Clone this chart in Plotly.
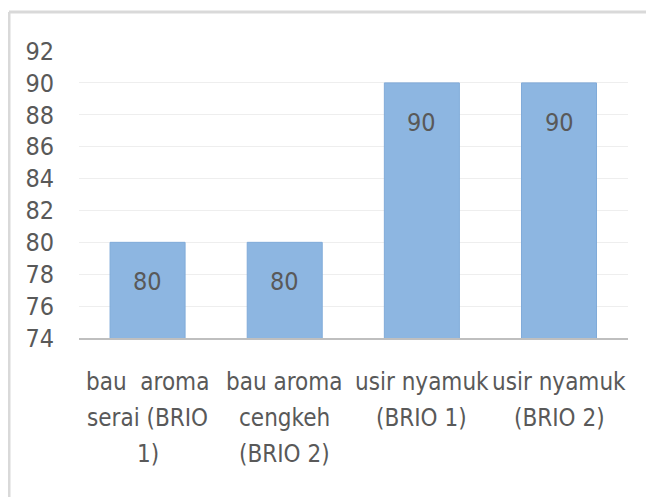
import plotly.graph_objects as go

categories = [
    "bau  aroma<br>serai (BRIO<br>1)",
    "bau aroma<br>cengkeh<br>(BRIO 2)",
    "usir nyamuk<br>(BRIO 1)",
    "usir nyamuk<br>(BRIO 2)",
]
values = [80, 80, 90, 90]
y_ticks = [74, 76, 78, 80, 82, 84, 86, 88, 90, 92]

FONT = "Liberation Sans Narrow, DejaVu Sans Condensed, Arial Narrow, sans-serif"
TXT = "#595959"

fig = go.Figure()
fig.add_trace(go.Bar(
    x=categories, y=values,
    marker=dict(color="#8db6e1", line=dict(color="#80abd9", width=1)),
    hoverinfo="skip",
))

# data labels (inside end)
for c, v in zip(categories, values):
    fig.add_annotation(x=c, y=v, text=str(v), showarrow=False,
                       yanchor="top", yshift=-23,
                       font=dict(family=FONT, size=25, color=TXT))

# category labels with Excel-like line spacing
for c in categories:
    for i, line in enumerate(c.split("<br>")):
        fig.add_annotation(x=c, y=0, yref="paper", text=line, showarrow=False,
                           yanchor="middle", yshift=-(44 + 36 * i),
                           font=dict(family=FONT, size=24, color=TXT))

# chart-area border (top and left edges visible)
fig.add_shape(type="line", xref="paper", yref="paper",
              x0=-0.1275, x1=1.06, y0=1.1359, y1=1.1359,
              line=dict(color="#d9d9d9", width=3))
fig.add_shape(type="line", xref="paper", yref="paper",
              x0=-0.1275, x1=-0.1275, y0=-0.57, y1=1.1359,
              line=dict(color="#d9d9d9", width=3))

fig.update_layout(
    width=646, height=489,
    margin=dict(l=71, r=26, t=43, b=159),
    paper_bgcolor="white", plot_bgcolor="white",
    bargap=0.453,
    showlegend=False,
    font=dict(family=FONT, color=TXT),
)
fig.update_xaxes(
    showgrid=False, showline=True, linecolor="#bfbfbf", linewidth=2,
    ticks="", showticklabels=False,
)
fig.update_yaxes(
    range=[74, 92], tickvals=y_ticks, showgrid=True, gridcolor="#eeeeee",
    gridwidth=1, zeroline=False, showline=False, ticks="",
    tickfont=dict(family=FONT, size=25, color=TXT), ticklabelstandoff=24,
)

fig.write_html("out.html")
